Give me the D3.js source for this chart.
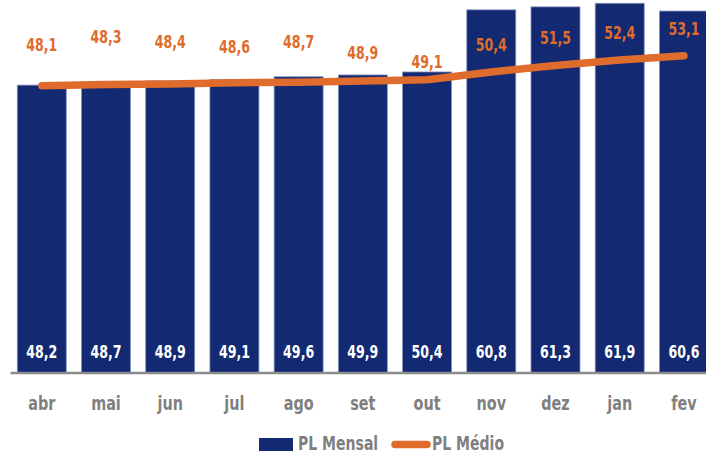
<!DOCTYPE html>
<html>
<head>
<meta charset="utf-8">
<script src="https://cdn.jsdelivr.net/npm/d3@7"></script>
<style>
  body { margin: 0; background: #fff; }
  svg text { font-family: "DejaVu Sans Condensed", "DejaVu Sans", sans-serif; font-weight: bold; }
</style>
</head>
<body>
<div id="chart"></div>
<script>
const months = ["abr", "mai", "jun", "jul", "ago", "set", "out", "nov", "dez", "jan", "fev"];
const plMensal = [48.2, 48.7, 48.9, 49.1, 49.6, 49.9, 50.4, 60.8, 61.3, 61.9, 60.6];
const plMedio = [48.1, 48.3, 48.4, 48.6, 48.7, 48.9, 49.1, 50.4, 51.5, 52.4, 53.1];

const COLORS = {
    "bar" : "#132a72",
    "barEdge" : "#8593bf",
    "line" : "#df6b2c",
    "axis" : "#8c8c8c",
    "tick" : "#7f7f7f"
}

const width = 706, height = 455;
const baseline = 373;
const NARROW = 0.8;   // the original font is narrower than DejaVu Condensed

// labels of the average line were dragged by hand in the original
const medioLabelNudge = [-14, -21, -15, -9, -13, -1, 9, 0, 0, 0, 0];

const fmt = function (v) { return d3.format(".1f")(v).replace(".", ","); };

// place a text at (px, py) squeezed horizontally
function squeeze(sel, px, py) {
    sel.attr("transform", function (d, i) {
        return "translate(" + px(d, i) + "," + py(d, i) + ") scale(" + NARROW + ",1)";
    });
}

const svg = d3.select("#chart")
    .append("svg")
    .attr("width", width)
    .attr("height", height);

const x = d3.scaleBand()
    .domain(months)
    .range([9.7, 716])
    .paddingInner(0.237)
    .paddingOuter(0.118);

const y = d3.scaleLinear()
    .domain([0, 62.45])
    .range([baseline, 0]);

const cx = function (i) { return x(months[i]) + x.bandwidth() / 2; };

// bars
svg.selectAll(".bar")
    .data(plMensal)
    .enter().append("rect")
    .attr("class", "bar")
    .attr("x", function (d, i) { return x(months[i]); })
    .attr("y", function (d) { return y(d); })
    .attr("width", x.bandwidth())
    .attr("height", function (d) { return baseline - y(d); })
    .attr("fill", COLORS.bar)
    .attr("stroke", COLORS.barEdge)
    .attr("stroke-width", 0.8);

// axis line
svg.append("line")
    .attr("x1", 10.5)
    .attr("x2", width)
    .attr("y1", baseline)
    .attr("y2", baseline)
    .attr("stroke", COLORS.axis)
    .attr("stroke-width", 2.5);

// month labels
svg.selectAll(".month")
    .data(months)
    .enter().append("text")
    .attr("class", "month")
    .attr("text-anchor", "middle")
    .attr("font-size", 20)
    .attr("fill", COLORS.tick)
    .text(function (d) { return d; })
    .call(squeeze, function (d, i) { return cx(i); }, function () { return 410; });

// values inside the bars
svg.selectAll(".bar-label")
    .data(plMensal)
    .enter().append("text")
    .attr("class", "bar-label")
    .attr("text-anchor", "middle")
    .attr("font-size", 17.5)
    .attr("fill", "#fff")
    .text(fmt)
    .call(squeeze, function (d, i) { return cx(i); }, function () { return 358; });

// average line
const line = d3.line()
    .x(function (d, i) { return cx(i); })
    .y(function (d) { return y(d); });

svg.append("path")
    .datum(plMedio)
    .attr("d", line)
    .attr("fill", "none")
    .attr("stroke", COLORS.line)
    .attr("stroke-width", 7.5)
    .attr("stroke-linecap", "round")
    .attr("stroke-linejoin", "round");

svg.selectAll(".medio-label")
    .data(plMedio)
    .enter().append("text")
    .attr("class", "medio-label")
    .attr("text-anchor", "middle")
    .attr("font-size", 17.5)
    .attr("fill", COLORS.line)
    .text(fmt)
    .call(squeeze, function (d, i) { return cx(i); },
        function (d, i) { return y(d) - 21 + medioLabelNudge[i]; });

// legend
const legend = svg.append("g");

legend.append("rect")
    .attr("x", 259)
    .attr("y", 438)
    .attr("width", 34)
    .attr("height", 13)
    .attr("fill", COLORS.bar);

legend.append("text")
    .attr("font-size", 19.5)
    .attr("fill", COLORS.tick)
    .text("PL Mensal")
    .call(squeeze, function () { return 298; }, function () { return 450; });

legend.append("line")
    .attr("x1", 395)
    .attr("x2", 427)
    .attr("y1", 444.5)
    .attr("y2", 444.5)
    .attr("stroke", COLORS.line)
    .attr("stroke-width", 7.5)
    .attr("stroke-linecap", "round");

legend.append("text")
    .attr("font-size", 19.5)
    .attr("fill", COLORS.tick)
    .text("PL Médio")
    .call(squeeze, function () { return 432; }, function () { return 450; });
</script>
</body>
</html>
